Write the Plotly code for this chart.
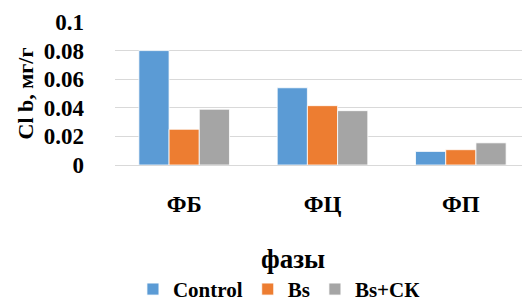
import plotly.graph_objects as go

categories = ["ФБ", "ФЦ", "ФП"]
control = [0.080, 0.054, 0.0095]
bs = [0.025, 0.0415, 0.0107]
bs_sk = [0.039, 0.038, 0.0155]
y_ticks = [0, 0.02, 0.04, 0.06, 0.08, 0.1]
y_tick_text = ["0", "0.02", "0.04", "0.06", "0.08", "0.1"]

FONT = "Liberation Serif"

fig = go.Figure()
for name, vals, col in [("Control", control, "#5B9BD5"),
                        ("Bs", bs, "#ED7D31"),
                        ("Bs+СК", bs_sk, "#A5A5A5")]:
    fig.add_trace(go.Bar(x=categories, y=vals, name=name,
                         marker=dict(color=col, line=dict(color="white", width=0.8))))

fig.update_layout(
    width=522, height=290,
    margin=dict(l=107, r=0, t=14, b=133, autoexpand=False),
    paper_bgcolor="white", plot_bgcolor="white",
    barmode="group", bargap=0.345, bargroupgap=0,
    font=dict(family=FONT, color="black", size=22, weight="bold"),
    showlegend=True,
    legend=dict(orientation="h", xref="container", yref="paper",
                x=0.52, xanchor="center", y=-0.87, yanchor="middle",
                font=dict(family=FONT, size=21, color="black", weight="bold"),
                itemwidth=30, tracegroupgap=0,
                bgcolor="rgba(0,0,0,0)"),
    xaxis=dict(showgrid=False, showline=False, ticks="",
               tickfont=dict(family=FONT, size=23, color="black", weight="bold"),
               ticklabelstandoff=23),
    yaxis=dict(range=[0, 0.1], tickvals=y_ticks, ticktext=y_tick_text,
               showgrid=True, gridcolor="#D9D9D9", gridwidth=1.3,
               zeroline=True, zerolinecolor="#D9D9D9", zerolinewidth=1.3,
               showline=False, ticks="",
               tickfont=dict(family=FONT, size=23, color="black", weight="bold"),
               ticklabelstandoff=30,
               title=dict(text="Cl b, мг/г", font=dict(family=FONT, size=22, weight="bold", color="black"),
                          standoff=4)),
    annotations=[dict(text="фазы", xref="paper", yref="paper", x=0.43, y=-0.66,
                      xanchor="center", yanchor="middle", showarrow=False,
                      font=dict(family=FONT, size=27, weight="bold", color="black"))],
)

fig.write_html("out.html")
